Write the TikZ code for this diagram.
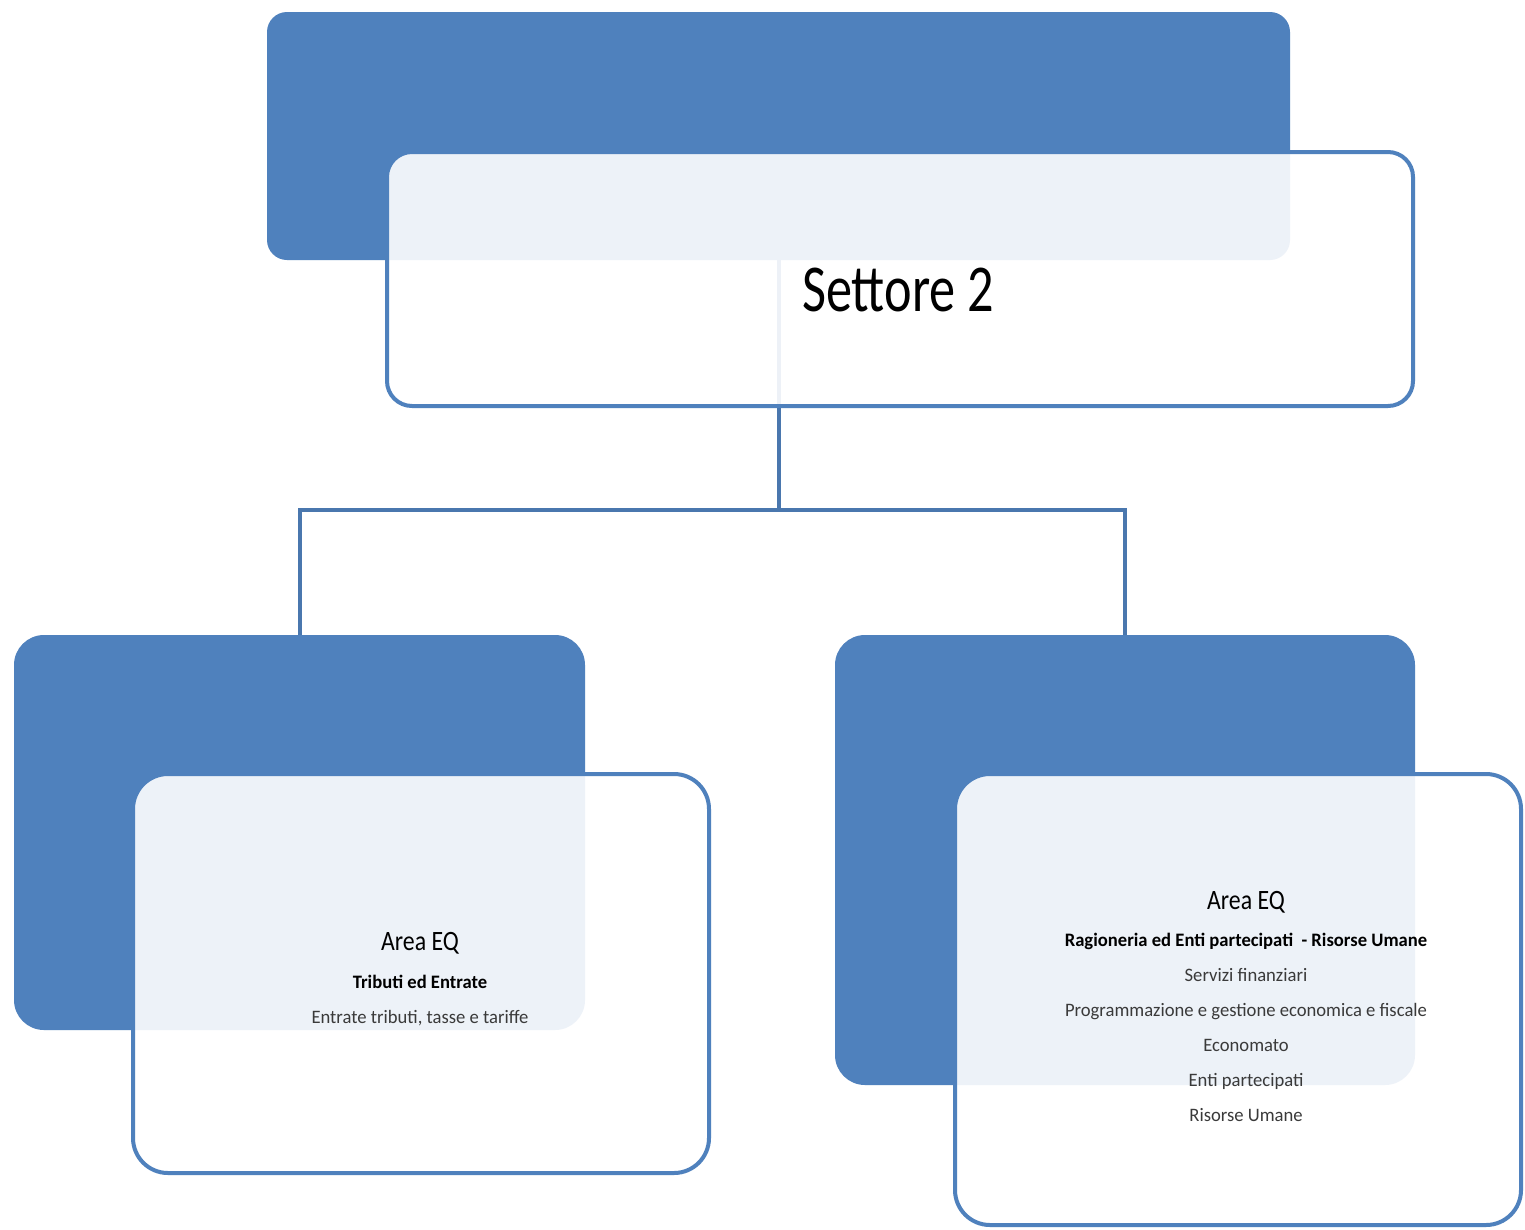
\documentclass[tikz,border=0pt]{standalone}
\usepackage{fontspec}
\setmainfont{Carlito}
\newfontfamily\titlefont[FakeStretch=0.78]{Carlito}
\newfontfamily\headfont[FakeStretch=0.85]{Carlito}
\newfontfamily\bodyfont[FakeStretch=0.98]{Carlito}
\definecolor{officeblue}{HTML}{4F81BD}
\definecolor{linkblue}{HTML}{4A77AE}
\definecolor{itemgray}{HTML}{3A3A3A}

\tikzset{
  bluebox/.style={fill=officeblue, draw=none, rounded corners=#1, inner sep=0pt},
  cardbox/.style={fill=white, fill opacity=0.9, draw=officeblue, draw opacity=1,
                  line width=4pt, rounded corners=#1, inner sep=0pt},
  link/.style={draw=linkblue, line width=4pt},
  headtext/.style={font=\headfont\fontsize{28}{30}\selectfont, text=black, inner sep=0pt},
  cardtext/.style={font=\bodyfont\fontsize{19}{35}\selectfont, text=itemgray, align=center, inner sep=0pt},
}

\begin{document}
\begin{tikzpicture}[x=1pt, y=-1pt]
  \useasboundingbox (0,0) rectangle (1525,1229);
  \fill[white] (0,0) rectangle (1525,1229);

  % back panels
  \node[bluebox=20pt, minimum width=1023pt, minimum height=248pt] (topback) at (778.5,136) {};
  \node[bluebox=30pt, minimum width=571pt, minimum height=395pt] (leftback) at (299.5,832.5) {};
  \node[bluebox=30pt, minimum width=580pt, minimum height=450pt] (rightback) at (1125,860) {};

  % hierarchy connectors
  \coordinate (hub) at (778.5,510);
  \draw[link] (topback.south) -- (hub);
  \draw[link] (hub) -| (leftback.north);
  \draw[link] (hub) -| (rightback.north);

  % front cards
  \node[cardbox=25pt, minimum width=1026pt, minimum height=254pt] (topcard) at (900,279) {};
  \node[cardbox=35pt, minimum width=576pt, minimum height=399pt] (leftcard) at (421,973.5) {};
  \node[cardbox=35pt, minimum width=566pt, minimum height=451pt] (rightcard) at (1238,999.5) {};

  % card texts
  \node[font=\titlefont\fontsize{67}{70}\selectfont, text=black, inner sep=0pt] (settore) at (898,290) {Settore 2};

  \node[headtext] (lefthead) at (420,943) {Area EQ};
  \node[cardtext, anchor=north] (leftlist) at (420,975)
    {\textbf{\color{black}Tributi ed Entrate}\\Entrate tributi, tasse e tariffe};

  \node[headtext] (righthead) at (1246,902) {Area EQ};
  \node[cardtext, anchor=north] (rightlist) at (1246,933)
    {\textbf{\color{black}Ragioneria ed Enti partecipati\ \ - Risorse Umane}\\
     Servizi finanziari\\
     Programmazione e gestione economica e fiscale\\
     Economato\\
     Enti partecipati\\
     Risorse Umane};
\end{tikzpicture}
\end{document}
